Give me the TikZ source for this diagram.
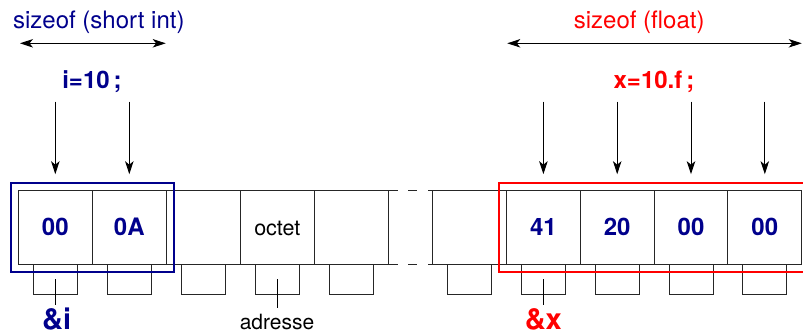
\documentclass[tikz,border=0pt]{standalone}
\usepackage{fontspec}
\setmainfont{TeX Gyre Heros}
\usetikzlibrary{arrows.meta,fit}
\definecolor{navyb}{RGB}{0,0,140}
\definecolor{redx}{RGB}{255,0,0}
\begin{document}
\begin{tikzpicture}[x=1pt,y=-1pt,
  every node/.style={inner sep=0pt, outer sep=0pt},
  cellL/.style={draw=black!85, line width=1.1pt, minimum width=74pt, minimum height=73.6pt,
     text height=16.7pt, text depth=0pt, font=\fontsize{24}{28}\selectfont\bfseries, text=navyb},
  cellR/.style={cellL, minimum width=73.8pt},
  octetfont/.style={font=\fontsize{21.5}{26}\selectfont, text=black},
  addr/.style={draw=black!85, line width=1pt, minimum width=44pt, minimum height=30pt},
  gridline/.style={draw=black!85, line width=1.1pt},
  arr/.style={draw=black, line width=1pt, -{Stealth[length=13pt, width=8.5pt, inset=3.5pt]}},
  dbl/.style={draw=black, line width=1pt, {Stealth[length=13pt, width=8.5pt, inset=3.5pt]}-{Stealth[length=13pt, width=8.5pt, inset=3.5pt]}},
  thinline/.style={draw=black, line width=1pt},
  sizefont/.style={font=\fontsize{24}{28}\selectfont},
  boldlab/.style={font=\fontsize{24}{28}\selectfont\bfseries},
  amplab/.style={font=\fontsize{29}{34}\selectfont\bfseries},
  adrfont/.style={font=\fontsize{21}{25}\selectfont, text=black},
  frame/.style={line width=2.2pt}
]
\useasboundingbox (0,0) rectangle (803,334);

% cells
\node[cellL] (c1) at (55.3,227.5) {00};
\node[cellL] (c2) at (129.3,227.5) {0A};
\node[cellL] (c3) at (203.3,227.5) {};
\node[cellL, octetfont] (c4) at (277.3,227.5) {octet};
\node[cellL] (c5) at (351.3,227.5) {};
\node[cellR] (c6) at (469.6,227.5) {};
\node[cellR] (c7) at (543.4,227.5) {41};
\node[cellR] (c8) at (617.2,227.5) {20};
\node[cellR] (c9) at (691.0,227.5) {00};
\node[cellR] (c10) at (764.8,227.5) {00};

% gap between the two groups of cells
\draw[gridline] (c5.north east) -- (398,190.7) (408.3,190.7) -- (416.7,190.7) (428.3,190.7) -- (c6.north west);
\draw[gridline] (c5.south east) -- (398,264.3) (408.3,264.3) -- (416.7,264.3) (428.3,264.3) -- (c6.south west);

% address boxes
\foreach \k in {1,...,10} {
  \node[addr, anchor=north] (a\k) at (c\k.south) {};
}

% top labels
\node[sizefont, text=navyb, anchor=base] (szi) at (98.8,28.3) {sizeof (short int)};
\node[sizefont, text=redx, anchor=base] (szf) at (639.2,28.3) {sizeof (float)};
\coordinate (li) at (20,43.3);
\coordinate (ri) at (165.7,43.3);
\coordinate (lf) at (507.3,43.3);
\coordinate (rf) at (801.7,43.3);
\draw[dbl] (li) -- (ri);
\draw[dbl] (lf) -- (rf);

\node[boldlab, text=navyb, anchor=base] (vi) at (92,88.3) {i=10\,;};
\node[boldlab, text=redx, anchor=base] (vx) at (654,88.3) {x=10.f\,;};

% arrows into cells
\foreach \k in {1,2,7,8,9,10} {
  \draw[arr] ([yshift=89pt]c\k.north) -- ([yshift=16.5pt]c\k.north);
}

% frames
\node[fit=(c1)(c2), draw=navyb, frame, inner sep=7.4pt] (fi) {};
\draw[draw=redx, frame] (803,183.3) -| (498.7,272) -- (803,272);

% address labels
\node[amplab, text=navyb, anchor=base] (ampi) at (56.7,329) {\&i};
\node[adrfont, anchor=base] (adr) at (277,329) {adresse};
\node[amplab, text=redx, anchor=base] (ampx) at (543.3,329) {\&x};
\draw[thinline] (a1.center) -- ([yshift=-26pt]a1.center);
\draw[thinline] (a4.center) -- ([yshift=-29pt]a4.center);
\draw[thinline] (a7.center) -- ([yshift=-26pt]a7.center);
\end{tikzpicture}
\end{document}
